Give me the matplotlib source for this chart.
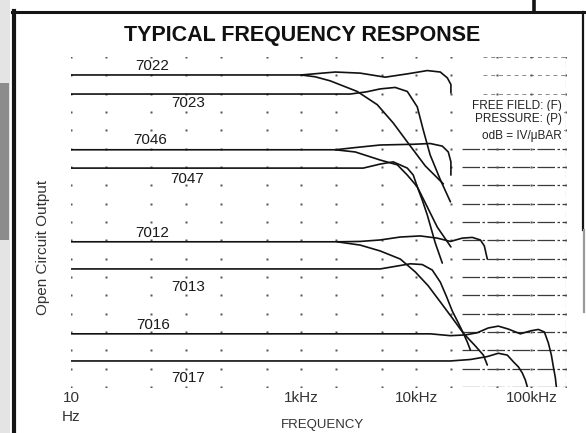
import matplotlib
matplotlib.use("Agg")
import matplotlib.pyplot as plt
from matplotlib.lines import Line2D
from matplotlib.patches import Rectangle
from matplotlib.ticker import NullLocator

plt.rcParams['font.family'] = ['Liberation Sans', 'DejaVu Sans']

# --- curves: frequency (Hz) and level (dB, 5 dB per grid row) ---
f_7022F = [10, 1000, 1400, 1980, 3260, 5370, 8360, 12470, 16180, 18620, 20000, 20000]
db_7022F = [85.1, 85.1, 85.5, 85.9, 85.6, 84.5, 85.4, 86.3, 85.9, 84.3, 82.5, 80.2]

f_7022P = [1000, 1325, 1786, 3070, 4580, 6310, 8510, 11970, 17180]
db_7022P = [85.1, 84.6, 83.5, 80.6, 77.0, 72.0, 66.5, 60.3, 55.4]

f_7023F = [10, 2670, 3700, 4860, 6560, 8360, 10200, 11500, 13200, 16200, 19800]
db_7023F = [79.9, 79.9, 80.5, 81.3, 81.7, 80.6, 76.4, 70.1, 63.3, 56.5, 50.5]

f_7046F = [10, 1980, 2950, 4860, 9420, 13240, 16830, 18970, 20000, 20000]
db_7046F = [64.7, 64.7, 65.3, 66.0, 66.2, 66.4, 65.7, 64.1, 61.4, 57.8]

f_7046P = [1980, 2950, 4860, 6840, 8360, 10200, 11270, 12470, 14620, 16830]
db_7046P = [64.7, 64.1, 61.9, 60.6, 57.8, 54.6, 51.0, 46.9, 39.3, 33.8]

f_7047F = [10, 3460, 4860, 6310, 8360, 9420, 10200, 12470, 15230, 20000]
db_7047F = [59.7, 59.7, 60.8, 61.4, 59.7, 57.8, 54.6, 49.1, 43.6, 38.2]

f_7012F = [10, 2056, 3260, 4860, 7260, 10840, 15230, 19800, 25120, 30690, 36060, 39010, 41420]
db_7012F = [39.6, 39.6, 39.7, 40.1, 40.9, 41.2, 40.6, 39.7, 40.6, 40.8, 40.1, 38.5, 34.9]

f_7012P = [2056, 3260, 4860, 7260, 9790, 12700, 16180, 20570, 25620, 32590, 38300, 41420]
db_7012P = [39.6, 38.7, 37.1, 34.9, 31.4, 27.6, 23.2, 18.8, 14.7, 11.2, 8.7, 6.0]

f_7013F = [10, 4860, 6560, 8870, 11270, 13770, 16180, 18240, 20570, 23170, 25620, 27730, 29510]
db_7013F = [32.2, 32.2, 32.9, 33.6, 33.4, 31.9, 28.6, 24.8, 20.7, 17.5, 14.7, 12.3, 10.1]

f_7016F = [10, 13240, 19800, 26680, 33880, 42260, 51640, 63100, 80200, 98000,
           115000, 129800, 140500, 149300, 155300, 161700, 164900]
db_7016F = [14.5, 14.5, 14.0, 14.2, 14.8, 16.1, 16.6, 15.8, 14.5, 15.3,
            15.7, 15.0, 12.0, 8.7, 5.5, 2.5, 0.0]

f_7017F = [10, 19800, 29510, 41420, 51640, 61800, 69700, 77100, 83500, 88700, 92300]
db_7017F = [7.1, 7.1, 7.5, 8.3, 9.2, 8.7, 6.9, 5.5, 3.8, 1.9, 0.0]

curves = [
    (f_7022F, db_7022F), (f_7022P, db_7022P), (f_7023F, db_7023F),
    (f_7046F, db_7046F), (f_7046P, db_7046P), (f_7047F, db_7047F),
    (f_7012F, db_7012F), (f_7012P, db_7012P), (f_7013F, db_7013F),
    (f_7016F, db_7016F), (f_7017F, db_7017F),
]

# curve labels
label_names = ['7022', '7023', '7046', '7047', '7012', '7013', '7016', '7017']
label_f = [51, 104, 49, 102, 51, 104, 52, 104]
label_db = [87.5, 77.4, 67.4, 56.7, 42.0, 27.3, 16.9, 2.5]

# grid
grid_f = [10, 20, 50, 100, 200, 500, 1000, 2000, 5000, 10000, 20000, 50000, 100000, 200000]
grid_db = list(range(0, 95, 5))

tick_f = [10, 1000, 10000, 100000]
tick_labels = ['10\nHz', '1kHz', '10kHz', '100kHz']

W, H = 586, 433
fig = plt.figure(figsize=(W / 100, H / 100), dpi=100)
ax = fig.add_axes([71 / W, 1 - 387 / H, (566 - 71) / W, (387 - 57) / H])
ax.set_xscale('log')
ax.set_xlim(10, 200000)
ax.set_ylim(0, 90)
for s in ax.spines.values():
    s.set_visible(False)

# broken horizontal rules on the right side
for lev in grid_db:
    if lev <= 65:
        ax.plot([25000, 200000], [lev, lev], color='#3a3a3a', lw=0.9,
                ls=(0, (14, 2, 2, 2)), zorder=1)
    else:
        ax.plot([38000, 200000], [lev, lev], color='#888888', lw=0.7,
                ls=(0, (4, 4)), zorder=1)
ax.plot([200000, 200000], [0, 90], color='#555555', lw=0.8, ls=(0, (6, 3)), zorder=1)

# grid dots
gx = [f for f in grid_f for _ in grid_db]
gy = [d for _ in grid_f for d in grid_db]
ax.plot(gx, gy, 's', ms=1.5, color='#555555', mec='none', zorder=2)

for f, d in curves:
    ax.plot(f, d, color='#111111', lw=1.2, solid_capstyle='round', zorder=3)

for name, lf, ld in zip(label_names, label_f, label_db):
    ax.text(lf, ld, name, ha='center', va='center', fontsize=11, color='#1a1a1a')

ax.set_yticks([])
ax.xaxis.set_minor_locator(NullLocator())
ax.set_xticks(tick_f)
ax.set_xticklabels(tick_labels)
ax.tick_params(axis='x', length=0, pad=3, labelsize=11, labelcolor='#333333')
for lbl in ax.get_xticklabels():
    lbl.set_linespacing(1.45)

fig.text(302 / W, 1 - 35 / H, 'TYPICAL FREQUENCY RESPONSE', ha='center', va='center',
         fontsize=15.5, fontweight='bold', color='#111111')
fig.text(43 / W, 1 - 247 / H, 'Open Circuit Output', rotation=90, ha='center', va='center',
         fontsize=11, color='#333333')
fig.text(322 / W, 1 - 425 / H, 'FREQUENCY', ha='center', va='center',
         fontsize=9.5, color='#333333')
note_box = dict(facecolor='white', edgecolor='none', pad=1.5)
fig.text(562 / W, 1 - 106 / H, 'FREE FIELD: (F)', ha='right', va='center', fontsize=8.5,
         color='#222222', bbox=note_box, zorder=5)
fig.text(562 / W, 1 - 119 / H, 'PRESSURE: (P)', ha='right', va='center', fontsize=8.5,
         color='#222222', bbox=note_box, zorder=5)
fig.text(562 / W, 1 - 136 / H, 'odB = IV/μBAR', ha='right', va='center', fontsize=8.5,
         color='#222222', bbox=note_box, zorder=5)

# scanned page frame
fig.add_artist(Rectangle((0, 0), 10 / W, 1, transform=fig.transFigure,
                         facecolor='#e4e4e4', edgecolor='none'))
fig.add_artist(Rectangle((0, 1 - 240 / H), 9 / W, 157 / H, transform=fig.transFigure,
                         facecolor='#8c8c8c', edgecolor='none'))
fig.add_artist(Line2D([14 / W, 14 / W], [0, 1 - 11 / H], transform=fig.transFigure,
                      color='#151515', lw=3.0))
fig.add_artist(Line2D([12 / W, 584 / W], [1 - 12 / H, 1 - 12 / H], transform=fig.transFigure,
                      color='#151515', lw=2.2))
fig.add_artist(Line2D([583 / W, 583 / W], [1 - 12 / H, 1 - 230 / H], transform=fig.transFigure,
                      color='#151515', lw=1.6))
fig.add_artist(Line2D([584 / W, 584 / W], [1 - 230 / H, 1 - 312 / H], transform=fig.transFigure,
                      color='#9a9a9a', lw=1.6))
fig.add_artist(Line2D([534 / W, 534 / W], [1, 1 - 12 / H], transform=fig.transFigure,
                      color='#151515', lw=2.6))

fig.savefig('out.png', dpi=100)
